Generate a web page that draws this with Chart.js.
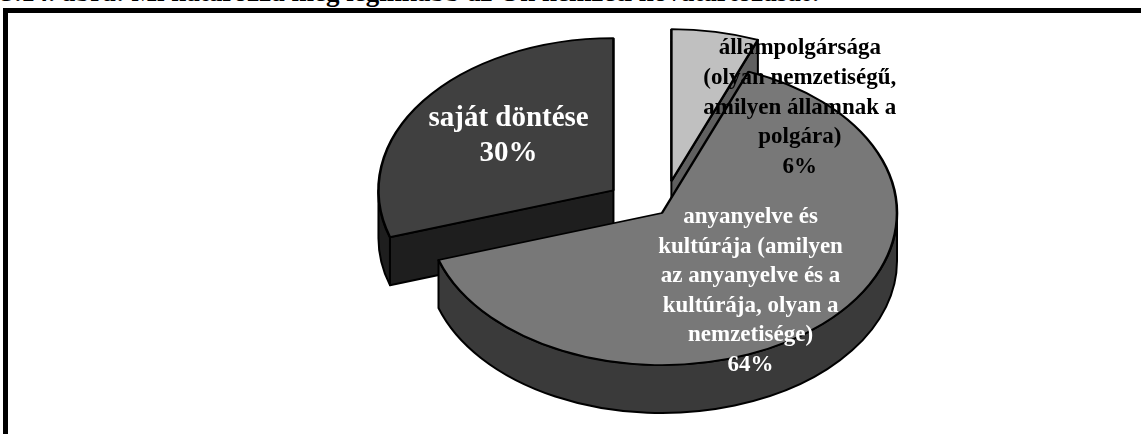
<!DOCTYPE html>
<html>
<head>
<meta charset="utf-8">
<script src="https://cdn.jsdelivr.net/npm/chart.js@4"></script>
<style>
  body { margin: 0; background: #fff; overflow: hidden; }
  #wrap { position: relative; width: 1141px; height: 434px; overflow: hidden; }
  #title { position: absolute; left: 1px; top: -21px; font: bold 27px "Liberation Serif", "Times New Roman", serif; line-height: 27px; white-space: nowrap; color: #000; }
  #frame { position: absolute; left: 3px; top: 8px; width: 1300px; height: 600px; border: 5px solid #000; box-sizing: border-box; }
  #chart { position: absolute; left: 0; top: 0; }
</style>
</head>
<body>
<div id="wrap">
  <div id="title">3.14. ábra: Mi határozza meg leginkább az Ön nemzeti hovatartozását?</div>
  <div id="frame"></div>
  <canvas id="chart" width="1141" height="434"></canvas>
</div>
<script>
// data
var categories = [
  "állampolgársága (olyan nemzetiségű, amilyen államnak a polgára)",
  "anyanyelve és kultúrája (amilyen az anyanyelve és a kultúrája, olyan a nemzetisége)",
  "saját döntése"
];
var values = [6, 64, 30];
var labelLines = [
  ["állampolgársága", "(olyan nemzetiségű,", "amilyen államnak a", "polgára)", "6%"],
  ["anyanyelve és", "kultúrája (amilyen", "az anyanyelve és a", "kultúrája, olyan a", "nemzetisége)", "64%"],
  ["saját döntése", "30%"]
];

// look of the fake 3d pie
var topColors = ["#c0c0c0", "#787878", "#404040"];
var sideColors = ["#606060", "#3a3a3a", "#1e1e1e"];
var textColors = ["#000", "#fff", "#fff"];
var fontSizes = [23, 23, 29];
var lineHeights = [29.6, 29.6, 35];
var explode = [50, 0, 60];
var labelFrac = [0.6, 0.65, 0.62];
var labelShift = [[102, 16], [-16, 6], [13, 1]];
var squash = 0.647;
var depth = 48;
var drawOrder = [0, 2, 1];

function sliceCenter(el, i) {
  var mid = (el.startAngle + el.endAngle) / 2;
  return {
    mid: mid,
    dx: Math.cos(mid) * explode[i],
    dy: Math.sin(mid) * explode[i] * squash
  };
}

var pie3d = {
  id: 'pie3d',
  beforeDatasetsDraw: function (chart) {
    var ctx = chart.ctx;
    var arcs = chart.getDatasetMeta(0).data;
    drawOrder.forEach(function (i) {
      var el = arcs[i];
      var c = sliceCenter(el, i);
      var cx = el.x + c.dx, cy = el.y + c.dy;
      var rx = el.outerRadius, ry = el.outerRadius * squash;
      var a0 = el.startAngle, a1 = el.endAngle;

      ctx.save();
      ctx.lineWidth = 2;
      ctx.strokeStyle = "#000";
      ctx.lineJoin = "round";
      ctx.fillStyle = sideColors[i];

      // cut faces facing the viewer
      [[a0, Math.cos(a0) < -0.01], [a1, Math.cos(a1) > 0.01]].forEach(function (w) {
        if (!w[1]) return;
        var px = cx + rx * Math.cos(w[0]), py = cy + ry * Math.sin(w[0]);
        ctx.beginPath();
        ctx.moveTo(cx, cy);
        ctx.lineTo(px, py);
        ctx.lineTo(px, py + depth);
        ctx.lineTo(cx, cy + depth);
        ctx.closePath();
        ctx.fill();
        ctx.stroke();
      });

      // front rim
      [-2 * Math.PI, 0, 2 * Math.PI].forEach(function (k) {
        var s = Math.max(a0, k), e = Math.min(a1, k + Math.PI);
        if (e <= s) return;
        ctx.beginPath();
        ctx.ellipse(cx, cy, rx, ry, 0, s, e, false);
        ctx.lineTo(cx + rx * Math.cos(e), cy + ry * Math.sin(e) + depth);
        ctx.ellipse(cx, cy + depth, rx, ry, 0, e, s, true);
        ctx.closePath();
        ctx.fill();
        ctx.stroke();
      });
      ctx.restore();

      // top face, drawn by the arc element itself
      ctx.save();
      ctx.translate(c.dx, el.y * (1 - squash) + c.dy);
      ctx.scale(1, squash);
      el.draw(ctx);
      ctx.restore();
    });
    return false;
  },
  afterDraw: function (chart) {
    var ctx = chart.ctx;
    var arcs = chart.getDatasetMeta(0).data;
    arcs.forEach(function (el, i) {
      var c = sliceCenter(el, i);
      var r = el.outerRadius * labelFrac[i];
      var x = el.x + c.dx + Math.cos(c.mid) * r + labelShift[i][0];
      var y = el.y + c.dy + Math.sin(c.mid) * r * squash + labelShift[i][1];
      var lines = labelLines[i];
      ctx.save();
      ctx.font = "bold " + fontSizes[i] + "px 'Liberation Serif', 'Times New Roman', serif";
      ctx.fillStyle = textColors[i];
      ctx.textAlign = "center";
      ctx.textBaseline = "middle";
      var y0 = y - (lines.length - 1) * lineHeights[i] / 2;
      lines.forEach(function (t, j) {
        ctx.fillText(t, x, y0 + j * lineHeights[i]);
      });
      ctx.restore();
    });
  }
};

new Chart(document.getElementById("chart"), {
  type: 'pie',
  data: {
    labels: categories,
    datasets: [{
      data: values,
      backgroundColor: topColors,
      borderColor: "#000",
      borderWidth: 2.6
    }]
  },
  options: {
    responsive: false,
    animation: false,
    events: [],
    radius: 235,
    layout: { padding: { left: 183, right: 0, top: 0, bottom: 8 } },
    plugins: {
      legend: { display: false },
      tooltip: { enabled: false }
    }
  },
  plugins: [pie3d]
});
</script>
</body>
</html>
